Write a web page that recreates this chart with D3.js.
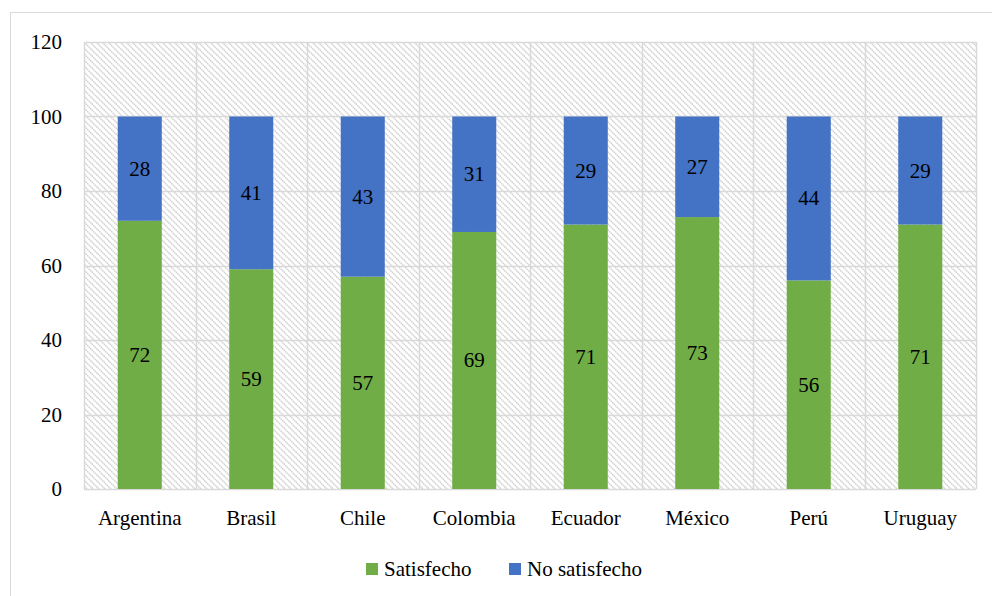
<!DOCTYPE html>
<html>
<head>
<meta charset="utf-8">
<script src="https://cdn.jsdelivr.net/npm/d3@7"></script>
</head>
<body style="margin:0">
<script>
const w = 992, h = 596;

const countries = ["Argentina", "Brasil", "Chile", "Colombia", "Ecuador", "México", "Perú", "Uruguay"];
const satisfecho = [72, 59, 57, 69, 71, 73, 56, 71];
const noSatisfecho = [28, 41, 43, 31, 29, 27, 44, 29];
const yTicks = [0, 20, 40, 60, 80, 100, 120];
const seriesNames = ["Satisfecho", "No satisfecho"];
const colors = ["#70ad47", "#4472c4"];

const margin = { left: 84, top: 42, right: 16, bottom: 107 };

const svg = d3.select("body")
    .append("svg")
    .attr("width", w)
    .attr("height", h);

// hatch pattern for the plot background
const defs = svg.append("defs");
const pat = defs.append("pattern")
    .attr("id", "hatch")
    .attr("patternUnits", "userSpaceOnUse")
    .attr("width", 6)
    .attr("height", 6);
pat.append("path")
    .attr("d", "M-1,-1 L7,7 M-1,5 L1,7 M5,-1 L7,1")
    .attr("stroke", "#cbcbcb")
    .attr("stroke-width", 1.4)
    .attr("stroke-dasharray", "1.4,0.6");

// outer chart frame
svg.append("rect")
    .attr("x", 10.5).attr("y", 12.5)
    .attr("width", 1000).attr("height", 600)
    .attr("fill", "none")
    .attr("stroke", "#d9d9d9");

const x = d3.scaleBand()
    .domain(countries)
    .range([margin.left, w - margin.right]);

const y = d3.scaleLinear()
    .domain([0, 120])
    .range([h - margin.bottom, margin.top]);

// plot background
svg.append("rect")
    .attr("x", margin.left)
    .attr("y", margin.top)
    .attr("width", w - margin.right - margin.left)
    .attr("height", h - margin.bottom - margin.top)
    .attr("fill", "url(#hatch)");

// horizontal gridlines
svg.selectAll(".hgrid")
    .data(yTicks)
    .enter().append("line")
    .attr("class", "hgrid")
    .attr("x1", margin.left)
    .attr("x2", w - margin.right)
    .attr("y1", d => Math.round(y(d)) + 0.5)
    .attr("y2", d => Math.round(y(d)) + 0.5)
    .attr("stroke", "#d9d9d9")
    .attr("stroke-width", 1.5);

// vertical gridlines at category boundaries
const vlines = countries.map(c => x(c)).concat([w - margin.right]);
svg.selectAll(".vgrid")
    .data(vlines)
    .enter().append("line")
    .attr("class", "vgrid")
    .attr("x1", d => Math.round(d) + 0.5)
    .attr("x2", d => Math.round(d) + 0.5)
    .attr("y1", margin.top)
    .attr("y2", h - margin.bottom)
    .attr("stroke", "#d9d9d9")
    .attr("stroke-width", 1.5);

// stacked data
const rows = countries.map((c, i) => ({ country: c, sat: satisfecho[i], nosat: noSatisfecho[i] }));
const layers = d3.stack().keys(["sat", "nosat"])(rows);

const barW = x.bandwidth() * 0.395;

const layer = svg.selectAll(".layer")
    .data(layers)
    .enter().append("g")
    .attr("class", "layer")
    .attr("fill", (d, i) => colors[i]);

layer.selectAll("rect")
    .data(d => d)
    .enter().append("rect")
    .attr("x", d => x(d.data.country) + x.bandwidth() / 2 - barW / 2)
    .attr("y", d => y(d[1]))
    .attr("width", barW)
    .attr("height", d => y(d[0]) - y(d[1]));

const labels = svg.append("g");

labels.selectAll(".val")
    .data(layers.flatMap(l => l))
    .enter().append("text")
    .attr("class", "val")
    .attr("x", d => x(d.data.country) + x.bandwidth() / 2)
    .attr("y", d => (y(d[0]) + y(d[1])) / 2 + 7)
    .attr("text-anchor", "middle")
    .attr("font-family", d => "Liberation Serif")
    .attr("font-size", 21)
    .text(d => d[1] - d[0]);

// y axis labels
labels.selectAll(".ylab")
    .data(yTicks)
    .enter().append("text")
    .attr("class", "ylab")
    .attr("x", 62)
    .attr("y", d => y(d) + 7)
    .attr("text-anchor", "end")
    .attr("font-family", d => "Liberation Serif")
    .attr("font-size", 21)
    .text(d => d);

// x axis labels
labels.selectAll(".xlab")
    .data(countries)
    .enter().append("text")
    .attr("class", "xlab")
    .attr("x", d => x(d) + x.bandwidth() / 2)
    .attr("y", 525)
    .attr("text-anchor", "middle")
    .attr("font-family", d => "Liberation Serif")
    .attr("font-size", 21)
    .text(d => d);

// legend
const legendX = [366, 509];
const legend = svg.selectAll(".legend")
    .data(seriesNames)
    .enter().append("g")
    .attr("class", "legend")
    .attr("transform", (d, i) => "translate(" + legendX[i] + ",563)");

legend.append("rect")
    .attr("width", 12)
    .attr("height", 12)
    .attr("fill", (d, i) => colors[i]);

legend.append("text")
    .attr("x", 18)
    .attr("y", 13)
    .attr("font-family", d => "Liberation Serif")
    .attr("font-size", 21)
    .text(d => d);
</script>
</body>
</html>
